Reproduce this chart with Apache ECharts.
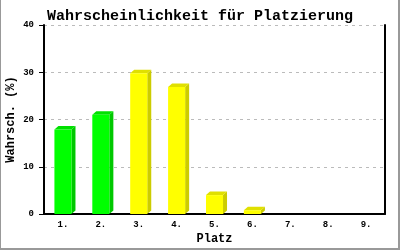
<!DOCTYPE html>
<html>
<head>
<meta charset="utf-8">
<script src="https://cdn.jsdelivr.net/npm/echarts@6/dist/echarts.min.js"></script>
<style>
html,body{margin:0;padding:0;background:#fff;}
#frame{position:absolute;left:0;top:0;width:397px;height:248px;border-left:1px solid #999;border-right:2px solid #999;border-bottom:2px solid #999;background:#fff;}
#c{width:400px;height:250px;position:absolute;left:-1px;top:0;}
</style>
</head>
<body>
<div id="frame"><div id="c"></div></div>
<script>
const titleText = "Wahrscheinlichkeit für Platzierung";
const yAxisName = "Wahrsch. (%)";
const xAxisName = "Platz";
const categories = ["1.", "2.", "3.", "4.", "5.", "6.", "7.", "8.", "9."];
const values = [17.9, 21.0, 29.8, 26.9, 4.0, 0.8, 0, 0, 0];
const yTicks = [0, 10, 20, 30, 40];

const greenStyle = {front: "#00ff00", top: "#00e000", side: "#00c800"};
const yellowStyle = {front: "#ffff00", top: "#e0e000", side: "#cccc00"};
const barStyles = [greenStyle, greenStyle, yellowStyle, yellowStyle, yellowStyle, yellowStyle, yellowStyle, yellowStyle, yellowStyle];

const chart = echarts.init(document.getElementById("c"), null, {renderer: "canvas"});
const mono = "'Liberation Mono', 'DejaVu Sans Mono', monospace";

chart.setOption({
  animation: false,
  backgroundColor: "transparent",
  title: {
    text: titleText, left: "center", top: 4,
    textStyle: {fontFamily: mono, fontSize: 15, fontWeight: "bold", color: "#000"}
  },
  grid: {left: 44, right: 15, top: 25, bottom: 36, containLabel: false, outerBoundsMode: "none"},
  xAxis: {
    type: "category", data: categories,
    name: xAxisName, nameLocation: "middle", nameGap: 19, nameMoveOverlap: false,
    nameTextStyle: {fontFamily: mono, fontSize: 12, fontWeight: "bold", color: "#000"},
    axisLine: {lineStyle: {color: "#000", width: 2}},
    axisTick: {show: false},
    axisLabel: {fontFamily: mono, fontSize: 9, fontWeight: "bold", color: "#000", margin: 6}
  },
  yAxis: [{
    type: "value", min: yTicks[0], max: yTicks[yTicks.length - 1], interval: 10,
    name: yAxisName, nameLocation: "middle", nameGap: 27, nameRotate: 90, nameMoveOverlap: false,
    nameTextStyle: {fontFamily: mono, fontSize: 12, fontWeight: "bold", color: "#000"},
    axisLine: {show: true, lineStyle: {color: "#000", width: 2}},
    axisTick: {show: true, length: 5, lineStyle: {color: "#000", width: 1}},
    axisLabel: {fontFamily: mono, fontSize: 9, fontWeight: "bold", color: "#000", margin: 10},
    splitLine: {show: true, lineStyle: {color: "#bbb", type: [3, 4], width: 1}}
  }, {
    type: "value", min: yTicks[0], max: yTicks[yTicks.length - 1], interval: 10,
    position: "right",
    axisLine: {show: true, lineStyle: {color: "#000", width: 2}},
    axisTick: {show: false}, axisLabel: {show: false}, splitLine: {show: false}
  }],
  series: [{
    type: "custom",
    data: values.map((v, i) => [i, v]),
    encode: {x: 0, y: 1},
    renderItem: function (params, api) {
      const i = api.value(0), v = api.value(1);
      if (!v) return null;
      const base = api.coord([i, 0]);
      const top = api.coord([i, v]);
      const bw = api.size([1, 0])[0] * 0.45;
      const x0 = base[0] - bw / 2, x1 = base[0] + bw / 2;
      const d = 4, dy = 3.5;
      const st = barStyles[i];
      return {
        type: "group",
        children: [
          {type: "polygon", shape: {points: [[x1, top[1]], [x1 + d, top[1] - dy], [x1 + d, base[1] - dy], [x1, base[1]]]}, style: {fill: st.side}},
          {type: "polygon", shape: {points: [[x0, top[1]], [x0 + d, top[1] - dy], [x1 + d, top[1] - dy], [x1, top[1]]]}, style: {fill: st.top}},
          {type: "rect", shape: {x: x0, y: top[1], width: bw, height: base[1] - top[1]}, style: {fill: st.front}}
        ]
      };
    }
  }]
});
</script>
</body>
</html>
